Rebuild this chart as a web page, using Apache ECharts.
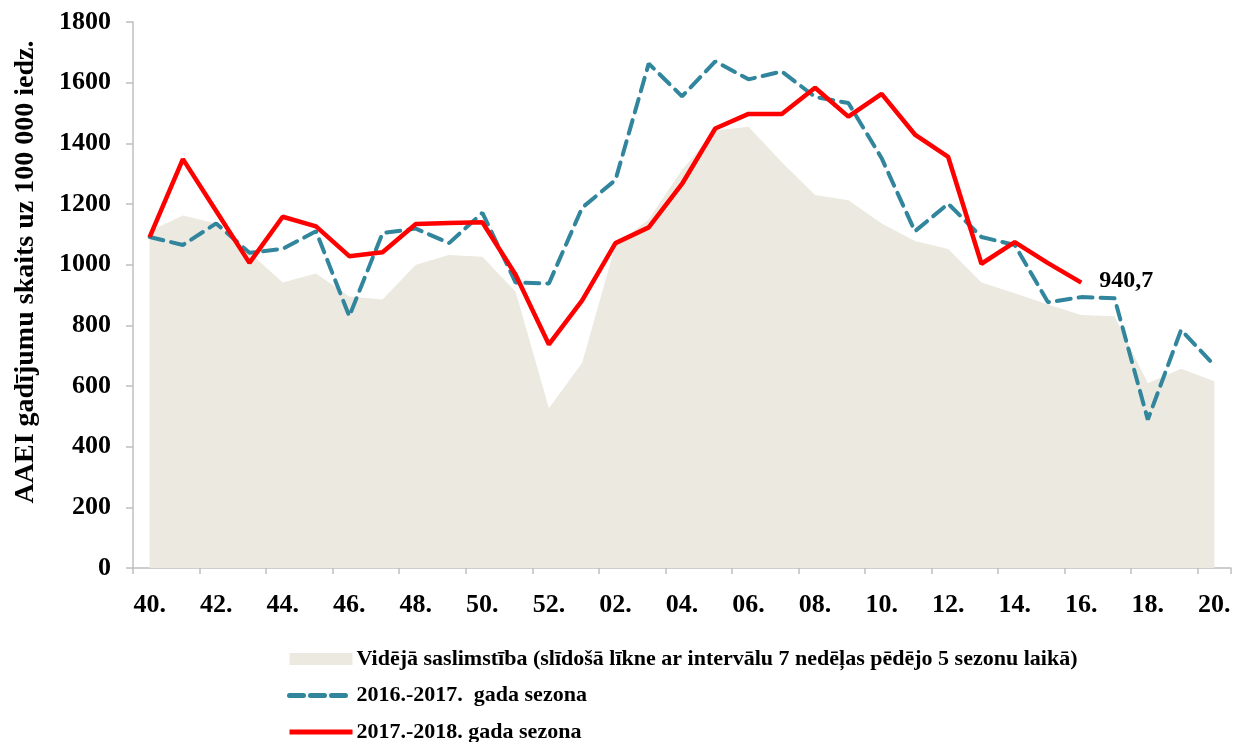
<!DOCTYPE html>
<html>
<head>
<meta charset="utf-8">
<script src="https://cdn.jsdelivr.net/npm/echarts@6/dist/echarts.min.js"></script>
<style>
html,body{margin:0;padding:0;background:#fff;}
#chart{width:1245px;height:742px;}
</style>
</head>
<body>
<div id="chart"></div>
<script>
// Weeks (category labels)
const weeks = ['40.','41.','42.','43.','44.','45.','46.','47.','48.','49.','50.','51.','52.',
  '01.','02.','03.','04.','05.','06.','07.','08.','09.','10.','11.','12.','13.','14.','15.','16.','17.','18.','19.','20.'];

// Average incidence (moving curve, last 5 seasons)
const avgValues = [1110,1162,1136,1040,941,971,895,885,1000,1032,1026,911,527,
  677,1065,1149,1312,1442,1455,1338,1230,1212,1136,1078,1052,941,906,869,834,830,609,657,616];

// 2016.-2017. season
const season1617 = [1091,1065,1136,1039,1052,1110,830,1104,1119,1071,1171,941,938,
  1188,1279,1663,1555,1670,1611,1637,1553,1533,1351,1110,1201,1091,1065,876,893,889,489,785,668];

// 2017.-2018. season
const season1718 = [1091,1348,1177,1006,1158,1126,1028,1041,1134,1137,1140,967,737,
  882,1071,1123,1266,1449,1497,1497,1583,1488,1563,1429,1355,1003,1074,1005,940.7];

const yTicks = {min:0, max:1800, interval:200};

const names = {
  avg: 'Vidējā saslimstība (slīdošā līkne ar intervālu 7 nedēļas pēdējo 5 sezonu laikā)',
  s1: '2016.-2017.  gada sezona',
  s2: '2017.-2018. gada sezona'
};
const yTitle = 'AAEI gadījumu skaits uz 100 000 iedz.';

const serif = '"Liberation Serif","Times New Roman",serif';
const areaColor = '#ECE9E0';
const tealColor = '#31859C';
const redColor = '#FF0000';
const axisGray = '#BFBFBF';

const chart = echarts.init(document.getElementById('chart'), null, {renderer:'canvas'});
chart.setOption({
  animation:false,
  backgroundColor:'#fff',
  grid:{left:133, right:14, top:22, bottom:174, containLabel:false},
  legend:{
    orient:'vertical', left:287, top:648, height:200, padding:0,
    itemWidth:63, itemHeight:12, itemGap:14.5,
    textStyle:{fontFamily:serif, fontWeight:'bold', fontSize:22, color:'#000', padding:[0,0,0,-1]},
    data:[
      {name:names.avg, icon:'rect', itemStyle:{color:areaColor}},
      {name:names.s1, itemStyle:{opacity:0, color:'transparent', borderWidth:0},
        lineStyle:{width:5, type:[14,7], color:tealColor, cap:'round'}},
      {name:names.s2, itemStyle:{opacity:0, color:'transparent', borderWidth:0},
        lineStyle:{width:5, color:redColor}}
    ]
  },
  xAxis:{
    type:'category', data:weeks, boundaryGap:true,
    axisLine:{lineStyle:{color:axisGray, width:1.5}},
    axisTick:{show:true, length:6, lineStyle:{color:axisGray, width:1.5}},
    axisLabel:{interval:1, margin:24, fontFamily:serif, fontWeight:'bold', fontSize:26, color:'#000'},
    splitLine:{show:false}
  },
  yAxis:{
    type:'value', min:yTicks.min, max:yTicks.max, interval:yTicks.interval,
    axisLine:{show:true, lineStyle:{color:axisGray, width:1.5}},
    axisTick:{show:true, length:7, lineStyle:{color:axisGray, width:1.5}},
    axisLabel:{margin:22, fontFamily:serif, fontWeight:'bold', fontSize:26, color:'#000',
      formatter: v => String(v)},
    splitLine:{show:false}
  },
  graphic:[{
    type:'text', x:26, y:272, rotation:Math.PI/2,
    style:{text:yTitle, fontFamily:serif, fontWeight:'bold', fontSize:28, fill:'#000',
      textAlign:'center', textVerticalAlign:'middle'}
  }],
  series:[
    {
      name:names.avg, type:'line', data:avgValues, symbol:'none',
      lineStyle:{width:0}, itemStyle:{color:areaColor},
      areaStyle:{color:areaColor, opacity:1}, z:1
    },
    {
      name:names.s1, type:'line', data:season1617, symbol:'none',
      lineStyle:{color:tealColor, width:4, type:[14,8], cap:'round'},
      itemStyle:{color:tealColor}, z:2
    },
    {
      name:names.s2, type:'line', data:season1718, symbol:'none',
      lineStyle:{color:redColor, width:4.5},
      itemStyle:{color:redColor}, z:3,
      endLabel:{show:true, distance:18,
        formatter: p => String(p.value).replace('.', ','),
        fontFamily: serif, fontWeight:'bold', fontSize:24, color:'#000', offset:[0,-2]}
    }
  ]
});
</script>
</body>
</html>
